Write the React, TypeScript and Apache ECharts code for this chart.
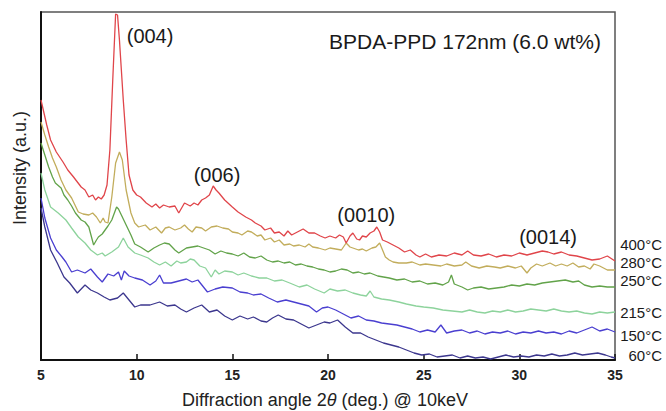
import React, { useEffect, useRef } from "react";
import * as echarts from "echarts";

// x: diffraction angle 2θ (deg.), y: intensity (a.u., offset curves)
const xTicks = [5, 10, 15, 20, 25, 30, 35];
const seriesNames = ["400°C", "280°C", "250°C", "215°C", "150°C", "60°C"];
const seriesColors = ["#e0454a", "#c2ad5c", "#62a34a", "#8dd39c", "#4a3fd0", "#3c378e"];

const s400: [number, number][] = [
  [5.0, 260], [5.3, 235], [5.5, 220], [5.8, 208], [6.15, 198], [6.4, 190], [6.7, 183], [6.9, 178],
  [7.1, 173], [7.3, 170], [7.5, 163], [7.7, 165], [7.85, 160], [8.0, 163], [8.15, 161], [8.3, 165],
  [8.45, 175], [8.6, 210], [8.75, 280], [8.9, 346], [9.0, 345], [9.1, 320], [9.2, 290], [9.3, 260],
  [9.45, 220], [9.6, 185], [9.8, 170], [10.0, 165], [10.2, 163], [10.5, 157], [10.8, 153], [11.0, 156],
  [11.2, 152], [11.4, 155], [11.7, 153], [12.0, 154], [12.2, 147], [12.5, 157], [12.8, 154], [13.0, 157],
  [13.2, 155], [13.4, 160], [13.6, 162], [13.8, 165], [14.0, 174], [14.15, 170], [14.3, 167], [14.6, 160],
  [15.0, 153], [15.3, 148], [15.7, 143], [16.0, 140], [16.2, 137], [16.5, 134], [16.7, 130], [17.0, 132],
  [17.2, 127], [17.45, 128], [17.7, 124], [17.9, 129], [18.1, 125], [18.4, 128], [18.7, 131], [19.0, 127],
  [19.3, 127], [19.6, 124], [19.85, 122], [20.1, 124], [20.4, 122], [20.6, 125], [20.8, 123], [20.95, 117],
  [21.15, 124], [21.3, 127], [21.5, 121], [21.65, 120], [21.8, 124], [22.0, 123], [22.2, 127], [22.4, 129],
  [22.55, 133], [22.7, 128], [22.85, 120], [23.1, 118], [23.4, 115], [23.7, 112], [24.0, 108], [24.3, 110],
  [24.6, 105], [24.8, 103], [25.1, 106], [25.4, 103], [25.8, 105], [26.2, 104], [26.6, 107], [27.0, 105],
  [27.3, 109], [27.6, 105], [28.0, 104], [28.4, 106], [28.8, 103], [29.2, 105], [29.6, 104], [30.0, 107],
  [30.4, 105], [30.8, 107], [31.2, 109], [31.5, 108], [31.8, 106], [32.2, 108], [32.6, 105], [33.0, 104],
  [33.4, 102], [33.8, 100], [34.2, 101], [34.6, 104], [35.0, 99],
];

const s280: [number, number][] = [
  [5.0, 238], [5.2, 225], [5.4, 213], [5.6, 202], [5.8, 193], [6.05, 180], [6.3, 170], [6.6, 162],
  [6.8, 154], [6.95, 148], [7.2, 146], [7.5, 145], [7.7, 147], [7.9, 143], [8.1, 137], [8.25, 142],
  [8.35, 138], [8.5, 137], [8.7, 163], [8.9, 197], [9.1, 208], [9.25, 200], [9.45, 170], [9.7, 147],
  [9.9, 137], [10.1, 133], [10.45, 135], [10.7, 130], [11.0, 133], [11.3, 127], [11.5, 132], [11.7, 133],
  [12.0, 130], [12.3, 132], [12.5, 135], [12.7, 131], [12.9, 128], [13.1, 133], [13.4, 132], [13.6, 129],
  [13.9, 133], [14.2, 134], [14.5, 132], [14.8, 131], [15.0, 128], [15.3, 127], [15.5, 125], [15.8, 129],
  [16.0, 128], [16.3, 124], [16.5, 125], [16.7, 120], [17.0, 122], [17.2, 118], [17.45, 120], [17.7, 115],
  [18.0, 116], [18.2, 114], [18.5, 115], [18.8, 113], [19.0, 116], [19.2, 113], [19.5, 112], [19.85, 110],
  [20.1, 112], [20.4, 111], [20.7, 110], [20.95, 117], [21.15, 113], [21.3, 112], [21.6, 110], [21.8, 111],
  [22.0, 109], [22.3, 112], [22.5, 113], [22.7, 117], [22.85, 110], [23.0, 103], [23.2, 100], [23.4, 98],
  [23.7, 97], [24.1, 97], [24.4, 98], [24.8, 95], [25.1, 96], [25.5, 95], [25.9, 94], [26.2, 96],
  [26.6, 94], [27.0, 95], [27.2, 98], [27.5, 94], [27.9, 92], [28.3, 94], [28.7, 93], [29.0, 92],
  [29.4, 94], [29.8, 92], [30.1, 94], [30.4, 87], [30.6, 92], [30.9, 96], [31.2, 94], [31.6, 97],
  [31.9, 94], [32.2, 96], [32.5, 94], [32.8, 97], [33.1, 93], [33.4, 94], [33.7, 91], [33.9, 96],
  [34.2, 94], [34.6, 90], [35.0, 90],
];

const s250: [number, number][] = [
  [5.0, 217], [5.2, 205], [5.4, 193], [5.6, 183], [5.75, 177], [6.05, 172], [6.2, 165], [6.4, 160],
  [6.6, 154], [6.8, 147], [7.1, 140], [7.3, 138], [7.5, 133], [7.75, 115], [7.9, 120], [8.0, 123],
  [8.2, 126], [8.35, 130], [8.5, 134], [8.7, 140], [8.95, 153], [9.05, 151], [9.2, 145], [9.45, 135],
  [9.7, 125], [9.9, 116], [10.2, 113], [10.6, 108], [10.9, 112], [11.2, 115], [11.45, 117], [11.7, 116],
  [12.0, 110], [12.2, 107], [12.6, 112], [12.9, 113], [13.2, 114], [13.5, 112], [13.8, 110], [14.1, 106],
  [14.4, 109], [14.7, 107], [15.0, 106], [15.3, 104], [15.6, 107], [15.9, 103], [16.2, 102], [16.5, 104],
  [16.8, 100], [17.1, 98], [17.4, 99], [17.7, 97], [18.0, 98], [18.3, 95], [18.6, 96], [18.9, 94],
  [19.2, 93], [19.5, 91], [19.8, 90], [20.1, 88], [20.4, 89], [20.7, 91], [21.0, 90], [21.3, 87],
  [21.6, 88], [21.9, 86], [22.2, 87], [22.6, 84], [22.9, 83], [23.2, 82], [23.6, 80], [24.0, 81],
  [24.4, 78], [24.8, 79], [25.2, 76], [25.6, 77], [26.0, 75], [26.3, 78], [26.45, 85], [26.6, 76],
  [27.0, 73], [27.3, 70], [27.6, 72], [28.0, 73], [28.4, 71], [28.8, 72], [29.2, 73], [29.6, 75],
  [30.0, 74], [30.4, 76], [30.8, 75], [31.2, 77], [31.6, 78], [32.0, 79], [32.4, 80], [32.8, 78],
  [33.1, 79], [33.4, 75], [33.8, 73], [34.2, 74], [34.6, 73], [35.0, 73],
];

const s215: [number, number][] = [
  [5.0, 187], [5.2, 170], [5.5, 153], [5.9, 147], [6.3, 140], [6.6, 132], [6.95, 123], [7.3, 117],
  [7.6, 110], [7.95, 105], [8.2, 107], [8.35, 104], [8.7, 108], [9.05, 113], [9.3, 122], [9.55, 113],
  [9.9, 107], [10.2, 105], [10.6, 102], [10.9, 98], [11.2, 95], [11.5, 98], [11.8, 94], [12.1, 99],
  [12.3, 97], [12.6, 98], [12.8, 101], [13.0, 100], [13.3, 94], [13.6, 92], [13.9, 83], [14.1, 90],
  [14.3, 86], [14.6, 89], [15.0, 88], [15.3, 85], [15.6, 87], [16.0, 84], [16.4, 82], [16.8, 82],
  [17.2, 79], [17.6, 80], [18.0, 77], [18.5, 73], [18.9, 75], [19.3, 71], [19.8, 67], [20.1, 71],
  [20.5, 69], [20.9, 70], [21.3, 67], [21.7, 65], [22.0, 64], [22.2, 69], [22.4, 63], [22.8, 61],
  [23.2, 60], [23.7, 58], [24.1, 56], [24.6, 54], [25.0, 53], [25.5, 52], [26.0, 50], [26.5, 49],
  [27.0, 48], [27.4, 50], [27.8, 48], [28.2, 47], [28.6, 49], [29.0, 48], [29.4, 50], [29.8, 48],
  [30.2, 49], [30.6, 51], [31.0, 50], [31.4, 49], [31.8, 51], [32.2, 49], [32.6, 48], [33.0, 49],
  [33.4, 47], [33.8, 46], [34.2, 48], [34.6, 47], [35.0, 48],
];

const s150: [number, number][] = [
  [5.0, 162], [5.2, 142], [5.5, 122], [5.8, 110], [6.1, 103], [6.3, 98], [6.6, 88], [6.9, 90],
  [7.3, 87], [7.6, 91], [7.95, 83], [8.2, 78], [8.5, 86], [8.8, 84], [9.05, 88], [9.2, 80],
  [9.35, 89], [9.6, 84], [9.9, 82], [10.3, 80], [10.7, 75], [11.0, 79], [11.2, 85], [11.4, 77],
  [11.8, 77], [12.2, 79], [12.6, 81], [12.9, 78], [13.2, 80], [13.7, 68], [14.1, 71], [14.5, 73],
  [15.0, 72], [15.4, 68], [15.8, 67], [16.1, 65], [16.5, 66], [16.9, 62], [17.35, 58], [17.8, 60],
  [18.2, 58], [18.6, 56], [19.0, 54], [19.4, 48], [19.7, 52], [20.0, 53], [20.4, 50], [20.8, 46],
  [21.2, 42], [21.6, 44], [22.0, 40], [22.4, 39], [22.8, 37], [23.2, 36], [23.6, 35], [24.0, 33],
  [24.4, 31], [24.8, 28], [25.2, 30], [25.6, 28], [25.9, 35], [26.2, 27], [26.6, 29], [27.0, 30],
  [27.4, 27], [27.8, 29], [28.2, 26], [28.6, 28], [29.0, 27], [29.4, 29], [29.8, 26], [30.2, 28],
  [30.6, 27], [31.0, 29], [31.4, 27], [31.8, 28], [32.2, 26], [32.6, 29], [33.0, 27], [33.4, 30],
  [33.8, 33], [34.2, 29], [34.6, 31], [35.0, 28],
];

const s60: [number, number][] = [
  [5.0, 152], [5.2, 133], [5.5, 110], [5.85, 97], [6.2, 83], [6.5, 77], [6.9, 67], [7.3, 75],
  [7.6, 70], [7.95, 67], [8.3, 63], [8.6, 60], [9.0, 62], [9.3, 67], [9.6, 60], [9.9, 53],
  [10.2, 55], [10.7, 55], [11.2, 58], [11.6, 54], [12.0, 55], [12.3, 51], [12.6, 48], [13.0, 52],
  [13.4, 55], [13.8, 48], [14.2, 50], [14.6, 44], [15.0, 40], [15.4, 44], [15.8, 41], [16.1, 43],
  [16.5, 39], [16.8, 38], [17.1, 42], [17.4, 45], [17.8, 41], [18.2, 40], [18.6, 36], [19.0, 32],
  [19.4, 35], [19.8, 38], [20.1, 37], [20.5, 40], [20.9, 33], [21.3, 27], [21.7, 27], [22.1, 23],
  [22.5, 20], [22.9, 17], [23.3, 15], [23.7, 13], [24.1, 10], [24.5, 7], [24.9, 5], [25.3, 6],
  [25.7, 3], [26.1, 4], [26.5, 5], [26.9, 2], [27.3, 4], [27.7, 2], [28.1, 3], [28.5, 1],
  [28.9, 3], [29.3, 5], [29.7, 3], [30.1, 4], [30.5, 3], [30.9, 5], [31.3, 4], [31.7, 6],
  [32.1, 4], [32.5, 5], [32.9, 7], [33.3, 5], [33.7, 6], [34.1, 7], [34.5, 5], [34.8, 3], [35.0, 2],
];

const seriesData = [s400, s280, s250, s215, s150, s60];

// peak annotations: [label, x (deg), intensity]
const peakLabels: [string, number, number][] = [
  ["(004)", 10.7, 324],
  ["(006)", 14.2, 185],
  ["(0010)", 22.0, 145],
  ["(0014)", 31.5, 123],
];
// right-side temperature label intensity positions
const tempLabelY = [116, 98, 80, 48, 25, 5];

const FONT = "'Liberation Sans', Arial, Helvetica, sans-serif";

export default function App() {
  const ref = useRef<HTMLDivElement>(null);
  useEffect(() => {
    document.body.style.margin = "0";
    const chart = echarts.init(ref.current!, null, { renderer: "svg" });
    const gridLeft = 41, gridTop = 12, gridW = 574, gridH = 348;
    const xMin = 5, xMax = 35, yMin = 0, yMax = 348;
    const px = (x: number) => gridLeft + ((x - xMin) / (xMax - xMin)) * gridW;
    const py = (y: number) => gridTop + gridH - ((y - yMin) / (yMax - yMin)) * gridH;

    const graphics: any[] = [];
    peakLabels.forEach(([t, x, y]) => {
      graphics.push({
        type: "text", x: px(x), y: py(y),
        style: { text: t, font: `20px ${FONT}`, fill: "#1a1a1a", align: "center", verticalAlign: "middle" },
      });
    });
    seriesNames.forEach((n, i) => {
      graphics.push({
        type: "text", x: 662, y: py(tempLabelY[i]),
        style: { text: n, font: `15px ${FONT}`, fill: "#1a1a1a", align: "right", verticalAlign: "middle" },
      });
    });
    graphics.push({
      type: "text", x: 601, y: 41,
      style: { text: "BPDA-PPD 172nm (6.0 wt%)", font: `21px ${FONT}`, fill: "#1a1a1a", align: "right", verticalAlign: "middle" },
    });
    graphics.push({
      type: "text", x: 20, y: 168, rotation: Math.PI / 2,
      style: { text: "Intensity (a.u.)", font: `18px ${FONT}`, fill: "#222", align: "center", verticalAlign: "middle" },
    });
    graphics.push({
      type: "text", x: 325, y: 400,
      style: {
        text: "Diffraction angle 2{i|θ} (deg.) @ 10keV",
        font: `18px ${FONT}`, fill: "#222", align: "center", verticalAlign: "middle",
        rich: { i: { fontStyle: "italic", fontSize: 18, fontFamily: FONT, fill: "#222" } },
      },
    });

    chart.setOption({
      animation: false,
      backgroundColor: "#ffffff",
      grid: { left: gridLeft, top: gridTop, width: gridW, height: gridH, show: true, borderColor: "#555", borderWidth: 1.5 },
      xAxis: {
        type: "value", min: xMin, max: xMax, interval: 5,
        axisLine: { show: true, lineStyle: { color: "#111", width: 2 } },
        axisTick: { show: true, inside: true, length: 6, lineStyle: { color: "#111", width: 1.5 } },
        axisLabel: {
          margin: 8, fontSize: 14, fontWeight: "bold", color: "#222", fontFamily: FONT,
          formatter: (v: number) => (xTicks.includes(v) ? String(v) : ""),
        },
        splitLine: { show: false },
      },
      yAxis: {
        type: "value", min: yMin, max: yMax,
        axisLine: { show: true, lineStyle: { color: "#111", width: 2 } },
        axisTick: { show: false }, axisLabel: { show: false }, splitLine: { show: false },
      },
      series: seriesData.map((d, i) => ({
        name: seriesNames[i], type: "line", data: d, showSymbol: false, symbol: "none",
        lineStyle: { color: seriesColors[i], width: 1.3 }, z: 10 - i,
      })),
      graphic: graphics,
    });
    return () => chart.dispose();
  }, []);
  return <div ref={ref} style={{ position: "absolute", left: 0, top: 0, width: 666, height: 411 }} />;
}
